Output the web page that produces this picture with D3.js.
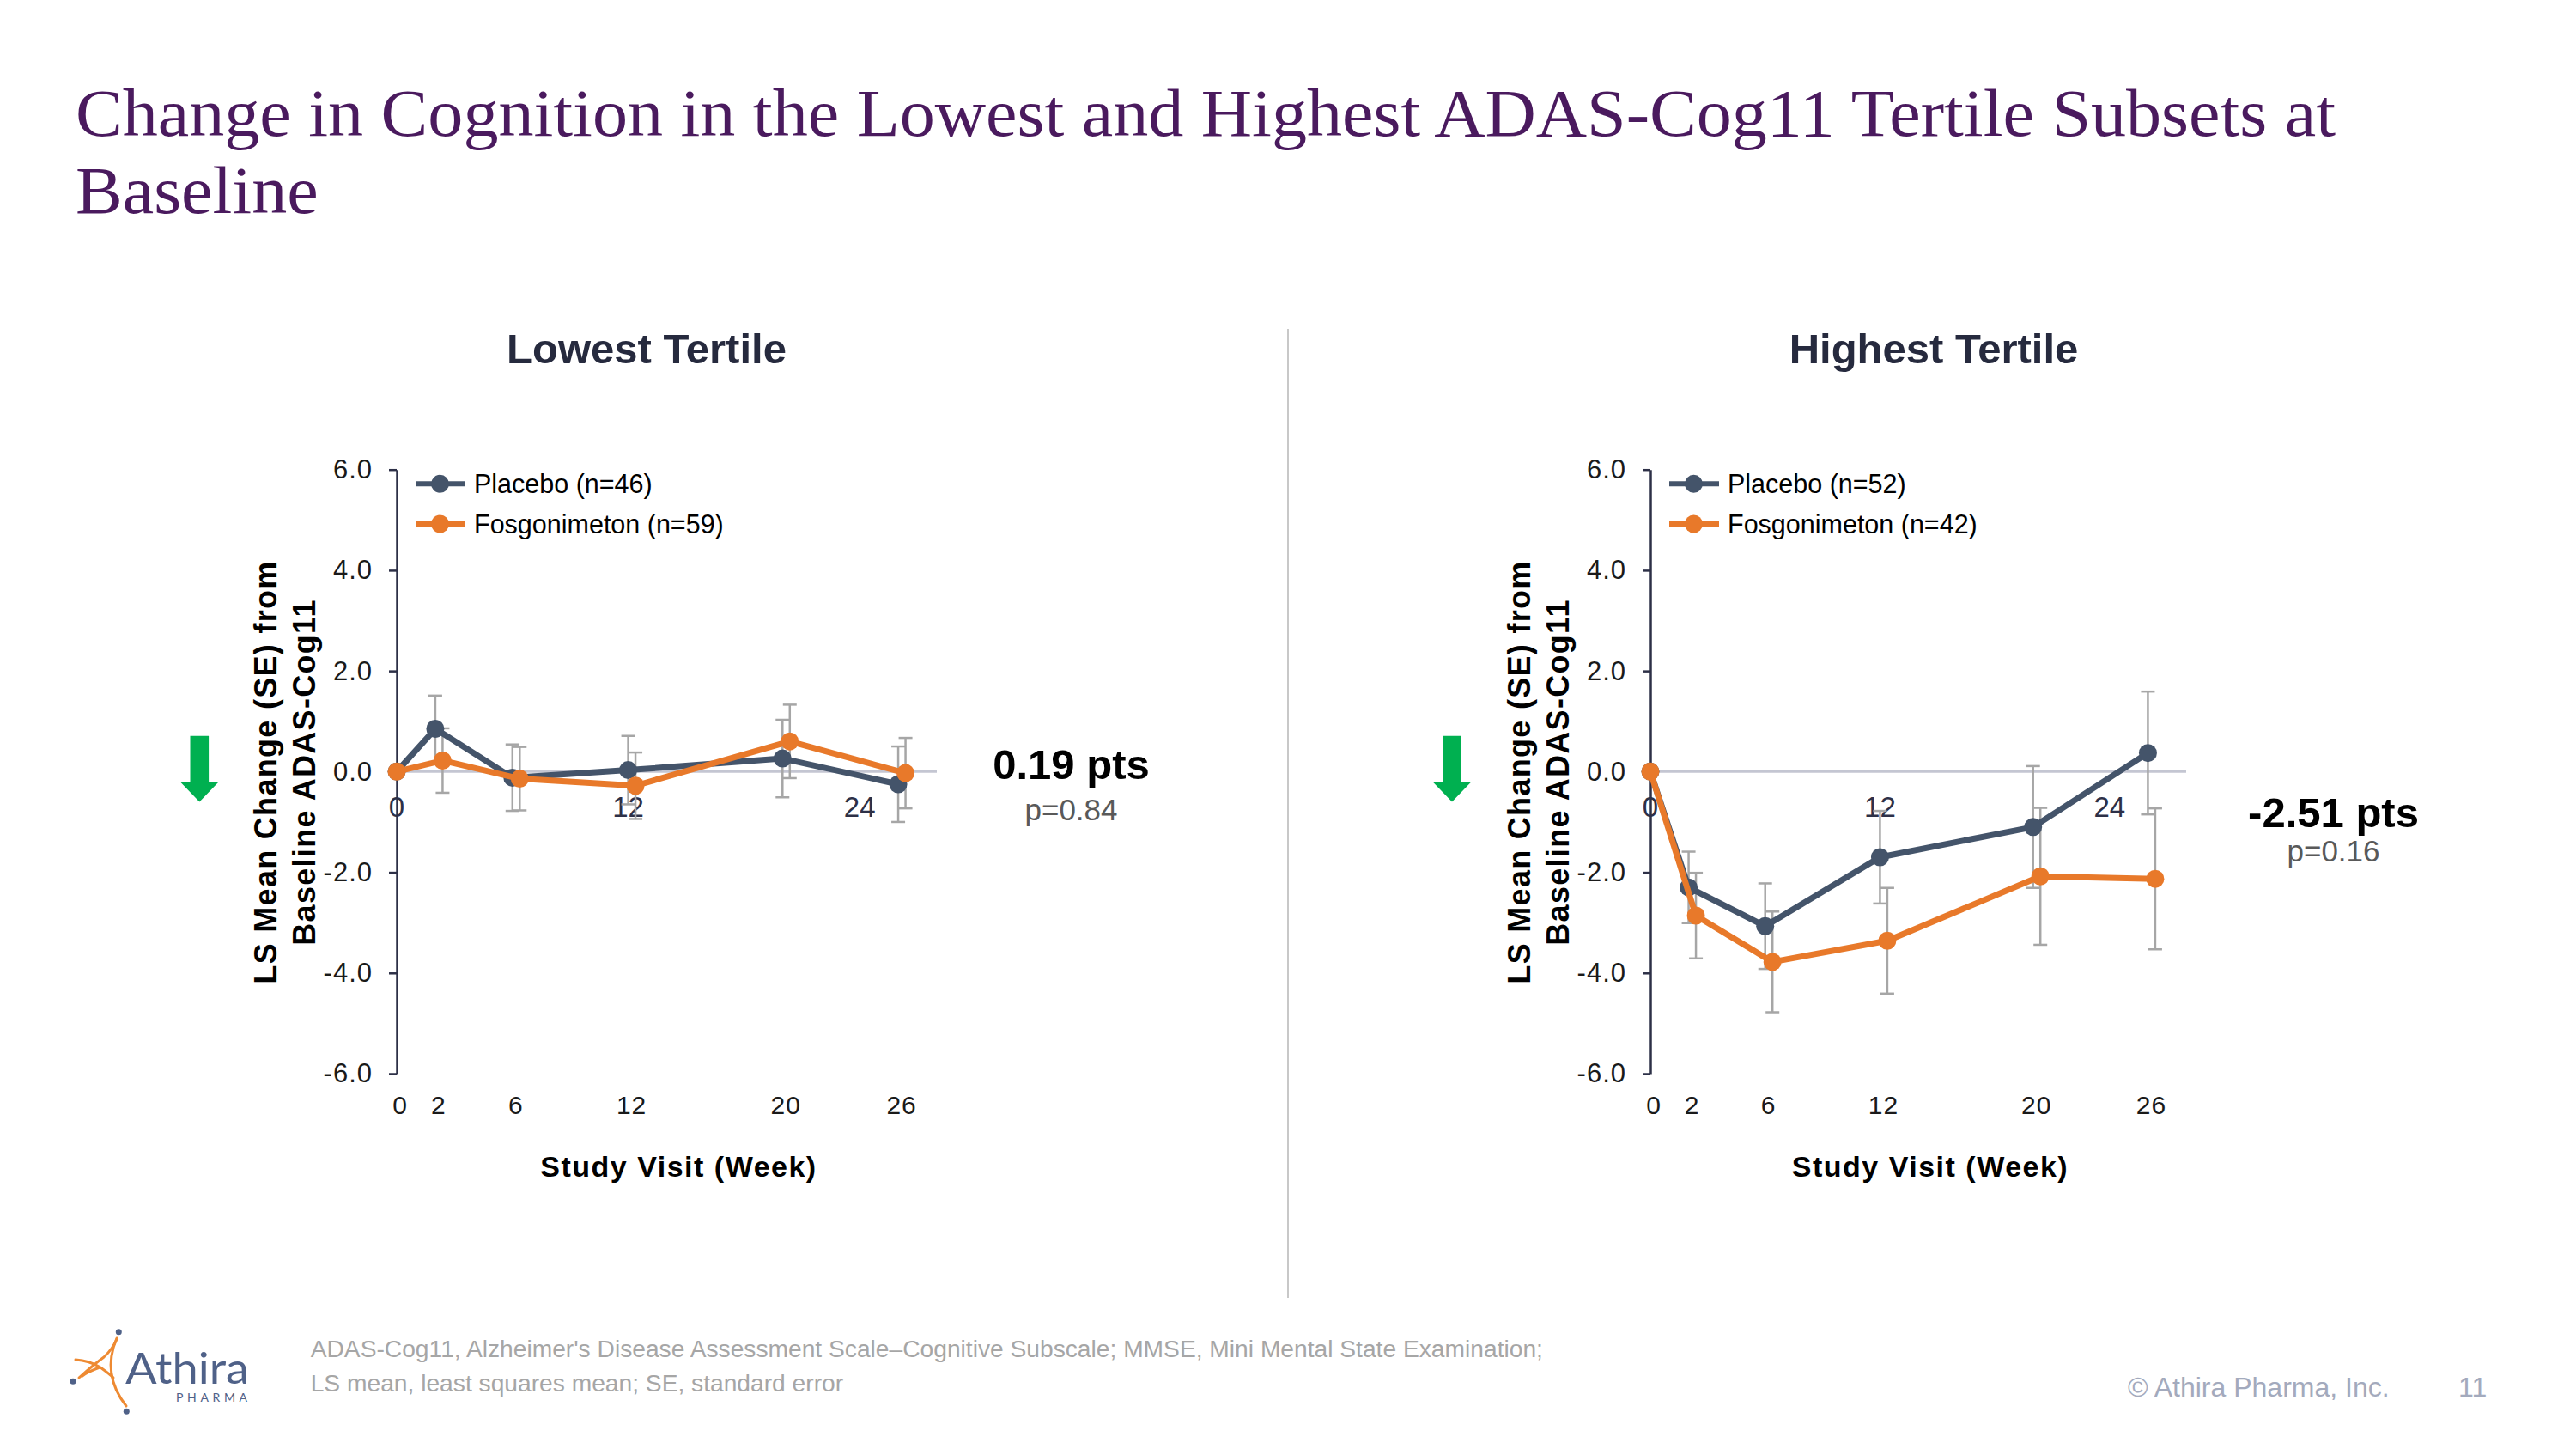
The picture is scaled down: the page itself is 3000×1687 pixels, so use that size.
<!DOCTYPE html>
<html>
<head>
<meta charset="utf-8">
<script src="https://cdn.jsdelivr.net/npm/d3@7"></script>
<style>
  html, body { margin: 0; padding: 0; background: #ffffff; }
  svg { display: block; }
</style>
</head>
<body>
<svg id="slide" width="3000" height="1687"></svg>
<script>
// ---------------- DATA ----------------
const weeks = [0, 2, 6, 12, 20, 26];
const weekTickLabels = ["0", "2", "6", "12", "20", "26"];
const innerWeekTicks = [0, 12, 24];
const yTicks = [-6, -4, -2, 0, 2, 4, 6];
const seriesNames = ["Placebo", "Fosgonimeton"];
const panelTitles = ["Lowest Tertile", "Highest Tertile"];
const nLow = [46, 59];
const nHigh = [52, 42];

const placeboLow   = [0, 0.85, -0.12, 0.03, 0.26, -0.25];
const placeboLowSE = [0, 0.66, 0.66, 0.68, 0.77, 0.75];
const fosLow       = [0, 0.22, -0.14, -0.28, 0.60, -0.03];
const fosLowSE     = [0, 0.64, 0.63, 0.66, 0.73, 0.70];

const placeboHigh   = [0, -2.30, -3.07, -1.70, -1.10, 0.37];
const placeboHighSE = [0, 0.71, 0.85, 0.92, 1.21, 1.22];
const fosHigh       = [0, -2.86, -3.78, -3.36, -2.08, -2.13];
const fosHighSE     = [0, 0.85, 1.00, 1.05, 1.36, 1.40];

const diffLabels = ["0.19 pts", "-2.51 pts"];
const pLabels = ["p=0.84", "p=0.16"];

const titleLines = ["Change in Cognition in the Lowest and Highest ADAS-Cog11 Tertile Subsets at", "Baseline"];
const yTitleLines = ["LS Mean Change (SE) from", "Baseline ADAS-Cog11"];
const xTitle = "Study Visit (Week)";
const footnoteLines = ["ADAS-Cog11, Alzheimer's Disease Assessment Scale\u2013Cognitive Subscale; MMSE, Mini Mental State Examination;",
                       "LS mean, least squares mean; SE, standard error"];
const copyrightText = "\u00A9 Athira Pharma, Inc.";
const pageNumber = "11";

// ---------------- STYLE / LAYOUT ----------------
const colors = { placebo: "#44546A", fos: "#E8792A", err: "#A6A6A6", axis: "#2D3047", zero: "#C4C6D2",
                 title: "#4A1A5E", panelTitle: "#262A3E", green: "#00B050", logo: "#4F6188", logoOrange: "#EE8A32" };
const sans = "Arial, 'Liberation Sans', Helvetica, sans-serif";

const panels = [
  { x0: 462,  x1: 1091, titleX: 753,  statX: 1247.5, diffY: 906.7, pY: 955,
    arrowX: 232.3, data: [placeboLow, fosLow], se: [placeboLowSE, fosLowSE], n: nLow },
  { x0: 1922, x1: 2546, titleX: 2252, statX: 2717.5, diffY: 963,   pY: 1003,
    arrowX: 1691, data: [placeboHigh, fosHigh], se: [placeboHighSE, fosHighSE], n: nHigh }
];
const yTop = 546.7, yBottom = 1250;
const dodgePx = 8.5;

const svg = d3.select("#slide");

// ---------------- TITLE ----------------
const titleG = svg.append("g");
let titleRatio = 1;
titleLines.forEach((t, i) => {
  const el = titleG.append("text")
    .attr("x", 88).attr("y", 158 + i * 90)
    .attr("font-family", "'Palatino Linotype', 'Book Antiqua', Palatino, 'Liberation Serif', serif")
    .attr("font-size", 78)
    .attr("fill", colors.title)
    .text(t);
  const len = el.node().getComputedTextLength();
  if (i === 0) titleRatio = 2632 / len;
  if (Math.abs(titleRatio - 1) > 0.01)
    el.attr("textLength", len * titleRatio).attr("lengthAdjust", "spacingAndGlyphs");
});

// ---------------- DIVIDER ----------------
svg.append("line").attr("x1", 1500).attr("x2", 1500).attr("y1", 383).attr("y2", 1511)
  .attr("stroke", "#C8C8C8").attr("stroke-width", 2);

// ---------------- PANELS ----------------
const y = d3.scaleLinear().domain([-6, 6]).range([yBottom, yTop]);

panels.forEach((p, pi) => {
  const x = d3.scaleLinear().domain([0, 28]).range([p.x0, p.x1]);
  const g = svg.append("g");

  // panel title
  g.append("text").attr("x", p.titleX).attr("y", 423.3)
    .attr("text-anchor", "middle").attr("font-family", sans).attr("font-weight", "bold")
    .attr("font-size", 49).attr("fill", colors.panelTitle).text(panelTitles[pi]);

  // zero line
  g.append("line").attr("x1", x(0)).attr("x2", x(28)).attr("y1", y(0)).attr("y2", y(0))
    .attr("stroke", colors.zero).attr("stroke-width", 3);

  // y axis
  const yAxis = d3.axisLeft(y).tickValues(yTicks).tickSize(9).tickSizeOuter(0).tickPadding(19)
    .tickFormat(d => d.toFixed(1));
  const ag = g.append("g").attr("transform", `translate(${p.x0},0)`).call(yAxis);
  ag.select(".domain").attr("stroke", colors.axis).attr("stroke-width", 2.5);
  ag.selectAll(".tick line").attr("stroke", colors.axis).attr("stroke-width", 2.5);
  ag.selectAll(".tick text").attr("font-family", sans).attr("font-size", 31).attr("fill", "#1A1A1A")
    .attr("letter-spacing", 1);

  // inner week labels on zero line
  g.selectAll(".inner").data(innerWeekTicks).enter().append("text")
    .attr("x", d => x(d)).attr("y", 951)
    .attr("text-anchor", "middle").attr("font-family", sans).attr("font-size", 33)
    .attr("fill", "#2D3047").text(d => d);

  // bottom week labels
  g.selectAll(".wk").data(weeks).enter().append("text")
    .attr("x", d => x(d) + 4).attr("y", 1297)
    .attr("text-anchor", "middle").attr("font-family", sans).attr("font-size", 30)
    .attr("letter-spacing", 1).attr("fill", "#1A1A1A").text((d, i) => weekTickLabels[i]);

  // x title
  g.append("text").attr("x", (p.x0 + p.x1) / 2 + 14).attr("y", 1370)
    .attr("text-anchor", "middle").attr("font-family", sans).attr("font-weight", "bold")
    .attr("font-size", 34).attr("letter-spacing", 1.5).attr("fill", "#000").text(xTitle);

  // y title
  yTitleLines.forEach((t, li) => {
    g.append("text")
      .attr("transform", `translate(${p.x0 - 140 + li * 45},899) rotate(-90)`)
      .attr("text-anchor", "middle").attr("font-family", sans).attr("font-weight", "bold")
      .attr("font-size", 36).attr("letter-spacing", 1.3).attr("fill", "#000").text(t);
  });

  // series
  const seriesColors = [colors.placebo, colors.fos];
  const xs = (si, w) => x(w) + (si === 1 && w > 0 ? dodgePx : 0);

  // error bars
  p.data.forEach((vals, si) => {
    const eg = g.append("g");
    weeks.forEach((w, i) => {
      const se = p.se[si][i];
      if (!se) return;
      const cx = xs(si, w);
      const yt = y(vals[i] + se), yb = y(vals[i] - se);
      eg.append("line").attr("x1", cx).attr("x2", cx).attr("y1", yt).attr("y2", yb)
        .attr("stroke", colors.err).attr("stroke-width", 2.5);
      [yt, yb].forEach(yy => eg.append("line").attr("x1", cx - 8).attr("x2", cx + 8)
        .attr("y1", yy).attr("y2", yy).attr("stroke", colors.err).attr("stroke-width", 2.5));
    });
  });

  p.data.forEach((vals, si) => {
    const line = d3.line().x((d, i) => xs(si, weeks[i])).y(d => y(d));
    g.append("path").datum(vals).attr("d", line).attr("fill", "none")
      .attr("stroke", seriesColors[si]).attr("stroke-width", 7).attr("stroke-linejoin", "round");
    g.selectAll(null).data(vals).enter().append("circle")
      .attr("cx", (d, i) => xs(si, weeks[i])).attr("cy", d => y(d)).attr("r", 10.5)
      .attr("fill", seriesColors[si]);
  });

  // legend
  seriesNames.forEach((nm, si) => {
    const ly = 563.3 + si * 46.7;
    g.append("line").attr("x1", p.x0 + 22).attr("x2", p.x0 + 80).attr("y1", ly).attr("y2", ly)
      .attr("stroke", seriesColors[si]).attr("stroke-width", 6);
    g.append("circle").attr("cx", p.x0 + 50.5).attr("cy", ly).attr("r", 10.5).attr("fill", seriesColors[si]);
    g.append("text").attr("x", p.x0 + 90).attr("y", ly + 10.5)
      .attr("font-family", sans).attr("font-size", 30.5).attr("fill", "#000")
      .text(`${nm} (n=${p.n[si]})`);
  });

  // stats
  g.append("text").attr("x", p.statX).attr("y", p.diffY).attr("text-anchor", "middle")
    .attr("font-family", sans).attr("font-weight", "bold").attr("font-size", 49).attr("fill", "#000")
    .text(diffLabels[pi]);
  g.append("text").attr("x", p.statX).attr("y", p.pY).attr("text-anchor", "middle")
    .attr("font-family", sans).attr("font-size", 35).attr("fill", "#595959")
    .text(pLabels[pi]);

  // green down arrow
  const ax = p.arrowX;
  const arrowPts = [[ax - 10.8, 856.7], [ax + 10.8, 856.7], [ax + 10.8, 911], [ax + 21.7, 911],
                    [ax, 933.5], [ax - 21.7, 911], [ax - 10.8, 911]];
  g.append("polygon").attr("points", arrowPts.map(d => d.join(",")).join(" ")).attr("fill", colors.green);
});

// ---------------- FOOTER ----------------
footnoteLines.forEach((t, i) => {
  svg.append("text").attr("x", 361.7).attr("y", 1580 + i * 40)
    .attr("font-family", sans).attr("font-size", 28.2).attr("fill", "#A6A6A6").text(t);
});
svg.append("text").attr("x", 2478).attr("y", 1626).attr("font-family", sans).attr("font-size", 32)
  .attr("fill", "#A3AABD").text(copyrightText);
svg.append("text").attr("x", 2863).attr("y", 1626).attr("font-family", sans).attr("font-size", 32)
  .attr("fill", "#A3AABD").text(pageNumber);

// ---------------- LOGO ----------------
const logo = svg.append("g");
const orangePaths = [
  "M136,1558 Q118,1600 147,1637",
  "M88,1583 Q104,1584 117,1592 Q128,1600 132,1604",
  "M92,1604 Q110,1588 121,1580 Q131,1571 136,1559",
  "M116,1592 Q100,1598 96,1602"
];
orangePaths.forEach(d => logo.append("path").attr("d", d).attr("fill", "none")
  .attr("stroke", colors.logoOrange).attr("stroke-width", 3).attr("stroke-linecap", "round"));
[[138.3, 1550.7], [85, 1608.3], [147.3, 1643.3]].forEach(c =>
  logo.append("circle").attr("cx", c[0]).attr("cy", c[1]).attr("r", 3.5).attr("fill", colors.logo));
logo.append("text").attr("x", 146).attr("y", 1611).attr("font-family", "Lato, 'Noto Sans', sans-serif")
  .attr("font-size", 50).attr("fill", colors.logo).attr("textLength", 144).attr("lengthAdjust", "spacingAndGlyphs")
  .text("Athira");
logo.append("text").attr("x", 205).attr("y", 1632).attr("font-family", "Lato, 'Noto Sans', sans-serif")
  .attr("font-size", 14).attr("fill", colors.logo).attr("textLength", 83).attr("lengthAdjust", "spacing")
  .text("PHARMA");
</script>
</body>
</html>
